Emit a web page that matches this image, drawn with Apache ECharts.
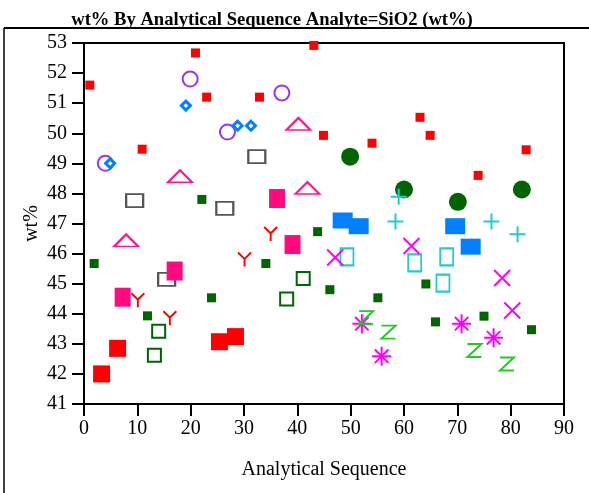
<!DOCTYPE html>
<html>
<head>
<meta charset="utf-8">
<script src="https://cdn.jsdelivr.net/npm/echarts@6/dist/echarts.min.js"></script>
<style>
  html, body { margin: 0; padding: 0; background: #fff; }
  #chart { width: 589px; height: 493px; }
</style>
</head>
<body>
<div id="chart"></div>
<script>
// data: [analytical sequence, wt%]
const smallRedSquares = [[1.1, 51.6], [20.9, 52.67], [23.0, 51.2], [10.9, 49.47], [32.9, 51.2], [43.1, 52.92],
  [44.9, 49.93], [54.0, 49.67], [63.0, 50.53], [64.9, 49.93], [82.9, 49.45], [73.9, 48.6]];
const purpleCircles = [[4.0, 49.0], [19.9, 51.8], [26.9, 50.04], [37.1, 51.34]];
const blueDiamonds = [[4.9, 49.0], [19.1, 50.92], [28.8, 50.25], [31.3, 50.25]];
const pinkTriangles = [[18.0, 48.57], [7.9, 46.44], [40.2, 50.31], [41.9, 48.18]];
const grayBoxes = [[9.5, 47.76], [32.4, 49.22], [26.4, 47.5], [15.5, 45.14]];
const greenSmallSquares = [[1.9, 45.67], [22.1, 47.8], [11.9, 43.93], [23.9, 44.53], [34.1, 45.67], [43.8, 46.73],
  [46.1, 44.8], [55.1, 44.53], [64.1, 44.99], [65.9, 43.73], [75.0, 43.92], [83.9, 43.47]];
const redY = [[10.1, 44.45], [16.1, 43.85], [30.1, 45.8], [35.0, 46.65]];
const pinkBars = [[7.25, 44.55], [17.0, 45.42], [36.2, 47.83], [39.1, 46.3]];
const redBigSquares = [[3.3, 42.0], [6.3, 42.85], [25.4, 43.07], [28.4, 43.24]];
const greenBoxes = [[14.0, 43.42], [13.2, 42.62], [38.0, 44.49], [41.1, 45.17]];
const greenDots = [[49.9, 49.22], [60.0, 48.13], [70.1, 47.72], [82.1, 48.13]];
const blueBlocks = [[48.5, 47.1], [51.5, 46.91], [69.6, 46.91], [72.5, 46.23]];
const cyanPlus = [[58.4, 47.07], [59.0, 47.89], [76.4, 47.07], [81.3, 46.64]];
const cyanBoxes = [[49.3, 45.89], [62.0, 45.69], [68.0, 45.89], [67.3, 45.02]];
const magentaX = [[47.1, 45.87], [61.4, 46.25], [78.4, 45.19], [80.3, 44.11]];
const magentaStars = [[52.1, 43.67], [55.8, 42.59], [70.8, 43.67], [76.8, 43.2]];
const greenZ = [[52.9, 43.87], [57.1, 43.39], [73.2, 42.78], [79.3, 42.33]];

const xTicks = { min: 0, max: 90, step: 10 };
const yTicks = { min: 41, max: 53, step: 1 };

const serif = '"Liberation Serif", "DejaVu Serif", serif';
const clear = 'rgba(0,0,0,0)';

// marker shapes drawn as strokes
const PLUS = 'path://M0,5L10,5M5,0L5,10';
const CROSS = 'path://M0,0L10,10M10,0L0,10';
const STAR = 'path://M5,0L5,10M0,5L10,5M1.46,1.46L8.54,8.54M8.54,1.46L1.46,8.54';
const YMARK = 'path://M0,0L5,4.5L10,0M5,4.5L5,10';
const ZMARK = 'path://M0,0L10,0L0,10L10,10';

function filled(data, symbol, size, color) {
  return { type: 'scatter', data, symbol, symbolSize: size, itemStyle: { color, opacity: 1 } };
}
function outline(data, symbol, size, color, width, fill) {
  return {
    type: 'scatter', data, symbol, symbolSize: size,
    itemStyle: { color: fill || clear, borderColor: color, borderWidth: width || 2, opacity: 1 }
  };
}

const chart = echarts.init(document.getElementById('chart'), null, { renderer: 'canvas' });

chart.setOption({
  animation: false,
  title: {
    text: 'wt% By Analytical Sequence Analyte=SiO2 (wt%)',
    left: 267, top: 6, textAlign: 'center',
    textStyle: { fontFamily: serif, fontWeight: 'bold', fontSize: 18.6, color: '#000' }
  },
  graphic: [
    { type: 'line', shape: { x1: 4, y1: 28, x2: 589, y2: 28 }, style: { stroke: '#000', lineWidth: 2 } },
    { type: 'line', shape: { x1: 4, y1: 28, x2: 4, y2: 493 }, style: { stroke: '#000', lineWidth: 1.5 } }
  ],
  grid: { left: 84, top: 43, width: 480, height: 361, show: true, borderColor: '#000', borderWidth: 2 },
  xAxis: {
    type: 'value', min: xTicks.min, max: xTicks.max, interval: xTicks.step,
    name: 'Analytical Sequence', nameLocation: 'middle', nameGap: 56, nameMoveOverlap: false,
    nameTextStyle: { fontFamily: serif, fontSize: 20, color: '#000' },
    axisLine: { lineStyle: { color: '#000', width: 2 } },
    axisTick: { length: 12, lineStyle: { color: '#000', width: 2 } },
    axisLabel: { fontFamily: serif, fontSize: 20, color: '#000', margin: 15 },
    splitLine: { show: false }
  },
  yAxis: {
    type: 'value', min: yTicks.min, max: yTicks.max, interval: yTicks.step,
    name: 'wt%', nameLocation: 'middle', nameGap: 42, nameRotate: 90, nameMoveOverlap: false,
    nameTextStyle: { fontFamily: serif, fontSize: 20, color: '#000' },
    axisLine: { lineStyle: { color: '#000', width: 2 } },
    axisTick: { length: 12, lineStyle: { color: '#000', width: 2 } },
    axisLabel: { fontFamily: serif, fontSize: 20, color: '#000', margin: 17 },
    splitLine: { show: false }
  },
  series: [
    filled(smallRedSquares, 'rect', 9, '#ff0000'),
    outline(purpleCircles, 'circle', 15, '#9933ff', 2),
    outline(blueDiamonds, 'diamond', 9, '#0080ff', 3, '#fff'),
    outline(pinkTriangles, 'triangle', [24, 12], '#ff1493', 2),
    outline(grayBoxes, 'rect', [17, 13], '#555555', 2),
    filled(greenSmallSquares, 'rect', 9, '#006400'),
    outline(redY, YMARK, [13, 14], '#ff0000', 2),
    filled(pinkBars, 'rect', [16, 19], '#ff0a7f'),
    filled(redBigSquares, 'rect', 17, '#ff0000'),
    outline(greenBoxes, 'rect', 13, '#006400', 2),
    filled(greenDots, 'circle', 18, '#006400'),
    filled(blueBlocks, 'rect', [20, 16], '#0080ff'),
    outline(cyanPlus, PLUS, 16, '#22cccc', 2),
    outline(cyanBoxes, 'rect', [13, 17], '#22cccc', 2),
    outline(magentaX, CROSS, 16, '#ff00ff', 2),
    outline(magentaStars, STAR, 19, '#ff00ff', 2),
    outline(greenZ, ZMARK, [14, 13], '#22cc22', 2)
  ]
});

window.addEventListener('resize', chart.resize);
</script>
</body>
</html>
